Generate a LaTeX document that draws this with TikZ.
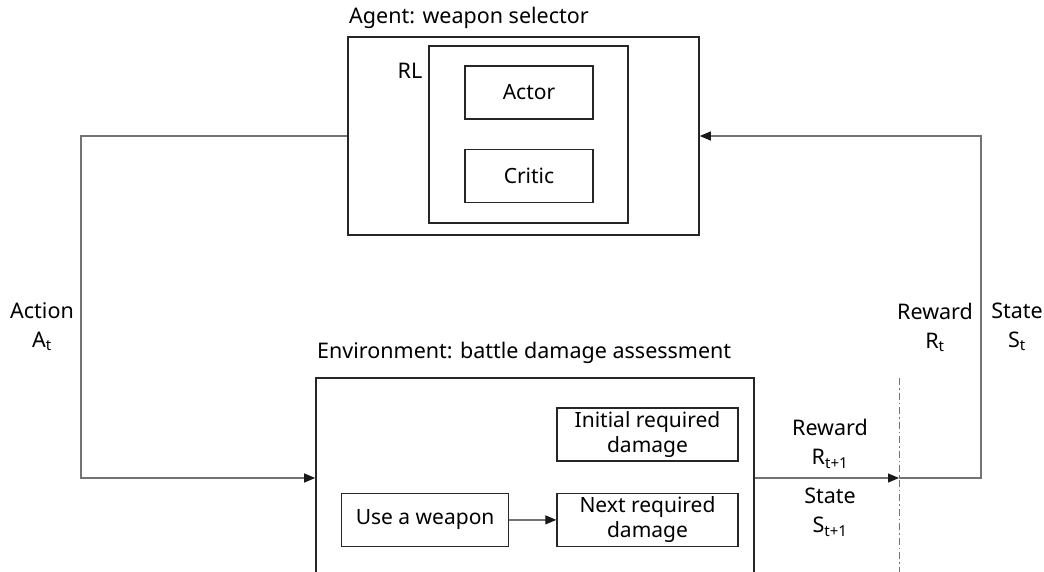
\documentclass[tikz,border=0pt]{standalone}
\usepackage{fontspec}
\setmainfont{Noto Sans}
\usetikzlibrary{arrows.meta, positioning}
\tikzstyle{outer} = [rectangle, draw=black!85, line width=1.6pt, inner sep=0pt]
\tikzstyle{block} = [rectangle, draw=black!85, line width=1.4pt, minimum width=128pt, minimum height=53pt, inner sep=0pt, text centered, align=center, font=\fontsize{21}{25}\selectfont]
\tikzstyle{wire} = [draw=black!55, line width=1.2pt]
\tikzstyle{arrow} = [wire, -{Triangle[length=11pt,width=9pt,black!90]}]
\tikzstyle{label} = [align=center, inner sep=0pt]

\begin{document}
\begin{tikzpicture}[x=1pt, y=-1pt, font=\fontsize{21.5}{29}\selectfont]
    \clip (0,0) rectangle (1044,571);

    \node (agent) [outer, minimum width=351pt, minimum height=198pt] at (523.5,136) {};
    \node (rl) [outer, line width=1.4pt, minimum width=199pt, minimum height=177pt] at (528.5,134.5) {};
    \node (actor) [block] at (529,92.5) {Actor};
    \node (critic) [block, below=29pt of actor] {Critic};
    \node (rlname) [label] at (410,71) {RL};
    \node (agentname) [label, anchor=west] at (349,18) {Agent: weapon selector};

    \node (env) [outer, minimum width=438pt, minimum height=222pt] at (535,489) {};
    \node (envname) [label, anchor=west] at (317,353) {Environment: battle damage assessment};
    \node (init) [block, minimum width=181pt] at (647.5,434.5) {Initial required\\damage};
    \node (next) [block, minimum width=181pt, below=31pt of init] {Next required\\damage};
    \node (use) [block, minimum width=167pt, left=47pt of next] {Use a weapon};

    \coordinate (actcorner) at (81,478);
    \coordinate (statecorner) at (981,478);
    \coordinate (cut) at (899,378);

    \node (action) [label] at (42,327) {Action\\A\textsubscript{t}};
    \node (reward) [label] at (935,327) {Reward\\R\textsubscript{t}};
    \node (state) [label] at (1017,327) {State\\S\textsubscript{t}};
    \node (rewardnext) [label] at (830,444) {Reward\\R\textsubscript{t+1}};
    \node (statenext) [label] at (830,512) {State\\S\textsubscript{t+1}};

    \draw [arrow] (use) -- (next);
    \draw [arrow] (agent.west) -| (actcorner) -- (actcorner -| env.west);
    \draw [arrow] (env.east |- statecorner) -- (cut |- statecorner);
    \draw [arrow] (cut |- statecorner) -- (statecorner) |- (agent.east);
    \draw [draw=black!55, line width=0.8pt, dash pattern=on 7pt off 3pt on 1.5pt off 3pt] (cut) -- (cut |- 0,575);
  \end{tikzpicture}
\end{document}
